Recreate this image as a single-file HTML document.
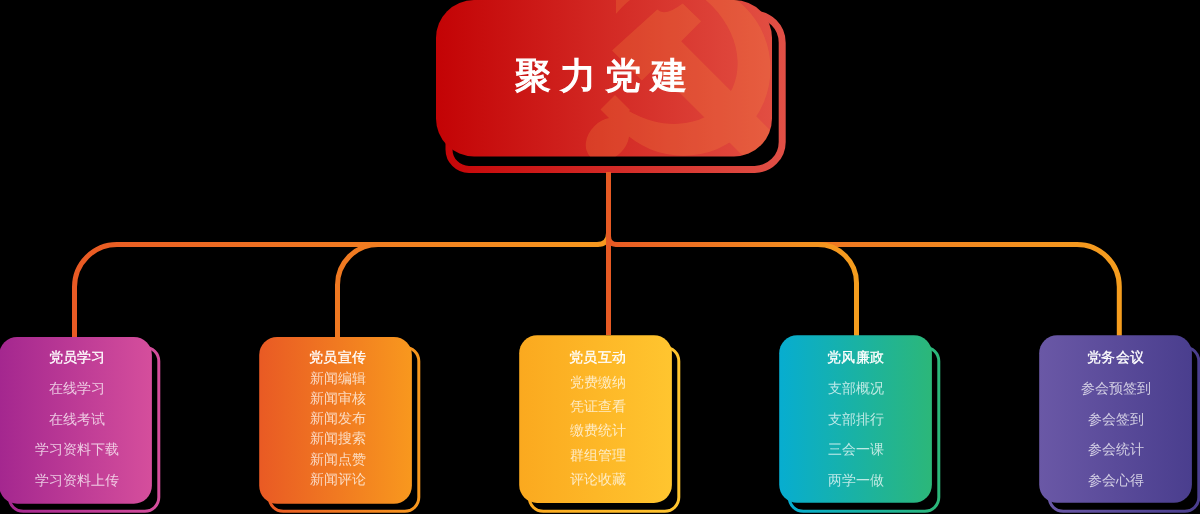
<!DOCTYPE html>
<html><head><meta charset="utf-8">
<style>
html,body{margin:0;padding:0;background:#000;width:1200px;height:514px;overflow:hidden}
svg{position:absolute;left:0;top:0;display:block;will-change:transform}
text{font-family:"Liberation Sans",sans-serif}
.t{font-size:14px;font-weight:400;fill:#fff;stroke:#fff;stroke-width:0.3px;letter-spacing:0.3px}
.i{font-size:14px;font-weight:400;fill:#fff;fill-opacity:.72}
.title{font-size:36px;font-weight:400;fill:#fff;stroke:#fff;stroke-width:1.3px;letter-spacing:9.4px}
</style></head>
<body>
<svg width="1200" height="514" viewBox="0 0 1200 514">
<defs>
  <linearGradient id="gMainFill" x1="436" y1="0" x2="772" y2="0" gradientUnits="userSpaceOnUse">
    <stop offset="0" stop-color="#c30305"/><stop offset="1" stop-color="#e24e42"/>
  </linearGradient>
  <linearGradient id="gMainLine" x1="446" y1="0" x2="786" y2="0" gradientUnits="userSpaceOnUse">
    <stop offset="0" stop-color="#c60608"/><stop offset="1" stop-color="#e15046"/>
  </linearGradient>
  <linearGradient id="gL" x1="75" y1="0" x2="608" y2="0" gradientUnits="userSpaceOnUse">
    <stop offset="0" stop-color="#e95a24"/><stop offset="1" stop-color="#f7981e"/>
  </linearGradient>
  <linearGradient id="gR5" x1="608" y1="0" x2="1119" y2="0" gradientUnits="userSpaceOnUse">
    <stop offset="0" stop-color="#e95a24"/><stop offset="1" stop-color="#f59d1e"/>
  </linearGradient>
  <linearGradient id="gR4" x1="608" y1="0" x2="856" y2="0" gradientUnits="userSpaceOnUse">
    <stop offset="0" stop-color="#e95a24"/><stop offset="1" stop-color="#f59d1e"/>
  </linearGradient>
  <linearGradient id="c1" x1="0" y1="0" x2="1" y2="0"><stop offset="0" stop-color="#a4278f"/><stop offset="1" stop-color="#d54e9c"/></linearGradient>
  <linearGradient id="c2" x1="0" y1="0" x2="1" y2="0"><stop offset="0" stop-color="#e95a24"/><stop offset="1" stop-color="#f8981e"/></linearGradient>
  <linearGradient id="c3" x1="0" y1="0" x2="1" y2="0"><stop offset="0" stop-color="#fba91f"/><stop offset="1" stop-color="#ffc52f"/></linearGradient>
  <linearGradient id="c4" x1="0" y1="0" x2="1" y2="0"><stop offset="0" stop-color="#07add0"/><stop offset="1" stop-color="#2cb779"/></linearGradient>
  <linearGradient id="c5" x1="0" y1="0" x2="1" y2="0"><stop offset="0" stop-color="#6a58a6"/><stop offset="1" stop-color="#4a3e8e"/></linearGradient>
  <clipPath id="cutTop"><path d="M390 321 L616 95 L616 -10 L900 -10 L900 321 Z"/></clipPath>
  <clipPath id="mainClip"><rect x="436" y="0" width="336" height="156.5" rx="38"/></clipPath>
</defs>

<!-- main box -->
<path d="M477 14.2 H753.7 A28.5 28.5 0 0 1 782.2 42.7 V141.9 A27.5 27.5 0 0 1 754.7 169.4 H469 A20 20 0 0 1 449 149.4 V42.2 A28 28 0 0 1 477 14.2 Z" fill="none" stroke="url(#gMainLine)" stroke-width="7"/>
<rect x="436" y="0" width="336" height="156.5" rx="38" fill="url(#gMainFill)"/>
<g clip-path="url(#mainClip)">
<g opacity="0.23" fill="#f7943e">
  <path fill-rule="evenodd" clip-path="url(#cutTop)" d="M770.5 68.7 A87 87 0 1 1 596.5 68.7 A87 87 0 1 1 770.5 68.7 Z M725.7 99.3 A81.7 66.4 36.7 1 0 594.7 1.7 A81.7 66.4 36.7 1 0 725.7 99.3 Z"/>
  <path d="M615 95 L630 110 L615.5 124.5 L600.5 109.5 Z"/>
  <ellipse cx="607.5" cy="139.4" rx="24.4" ry="18.7" transform="rotate(-45 607.5 139.4)"/>
  <path d="M612 50.6 L657.3 9.6 Q665 16.9 682.7 3.4 L701.1 21.3 L681.2 41.2 L795 155 L768.5 181.5 L654.7 67.7 L641.9 80.5 Z"/>
</g></g>
<text class="title" x="605.5" y="88" text-anchor="middle">聚力党建</text>

<!-- connectors -->
<g fill="none" stroke-width="5" stroke-linecap="round">
  <path d="M608.5 233 Q608.5 244.5 597 244.5 H117 A42.5 42.5 0 0 0 74.5 287 V337" stroke="url(#gL)"/>
  <path d="M597 244.5 H378 A40.5 40.5 0 0 0 337.5 285 V337" stroke="url(#gL)"/>
  <path d="M608.5 236 Q608.5 244.5 617 244.5 H1077 A42.3 42.3 0 0 1 1119.3 286.8 V335" stroke="url(#gR5)"/>
  <path d="M617 244.5 H818 A38.5 38.5 0 0 1 856.5 283 V335" stroke="url(#gR4)"/>
  <path d="M608.5 172 V335" stroke="#e65a24" stroke-linecap="butt"/>
</g>

<!-- cards -->
<g id="cards">
  <rect x="9.2" y="347.2" width="149.6" height="164.1" rx="14" fill="none" stroke="url(#c1)" stroke-width="3"/>
  <rect x="-0.8" y="336.9" width="152.7" height="166.8" rx="18" fill="url(#c1)"/>
  <rect x="269.2" y="347.2" width="149.6" height="164.1" rx="14" fill="none" stroke="url(#c2)" stroke-width="3"/>
  <rect x="259.2" y="336.9" width="152.7" height="166.9" rx="18" fill="url(#c2)"/>
  <rect x="529.2" y="347.2" width="149.6" height="164.1" rx="14" fill="none" stroke="url(#c3)" stroke-width="3"/>
  <rect x="519.2" y="335.2" width="152.7" height="167.7" rx="18" fill="url(#c3)"/>
  <rect x="789.2" y="347.2" width="149.6" height="164.1" rx="14" fill="none" stroke="url(#c4)" stroke-width="3"/>
  <rect x="779.2" y="335.2" width="152.7" height="167.6" rx="18" fill="url(#c4)"/>
  <rect x="1049.2" y="347.2" width="149.6" height="164.1" rx="14" fill="none" stroke="url(#c5)" stroke-width="3"/>
  <rect x="1039.2" y="335.2" width="152.7" height="167.6" rx="18" fill="url(#c5)"/>
</g>

<g text-anchor="middle">
  <text class="t" x="77.2" y="362.2">党员学习</text>
  <text class="i" x="77.2" y="393">在线学习</text>
  <text class="i" x="77.2" y="423.5">在线考试</text>
  <text class="i" x="77.2" y="454">学习资料下载</text>
  <text class="i" x="77.2" y="484.5">学习资料上传</text>

  <text class="t" x="337.8" y="362.2">党员宣传</text>
  <text class="i" x="337.8" y="382.5">新闻编辑</text>
  <text class="i" x="337.8" y="402.8">新闻审核</text>
  <text class="i" x="337.8" y="423">新闻发布</text>
  <text class="i" x="337.8" y="443.3">新闻搜索</text>
  <text class="i" x="337.8" y="463.6">新闻点赞</text>
  <text class="i" x="337.8" y="483.9">新闻评论</text>

  <text class="t" x="597.8" y="362.2">党员互动</text>
  <text class="i" x="597.8" y="386.6">党费缴纳</text>
  <text class="i" x="597.8" y="411">凭证查看</text>
  <text class="i" x="597.8" y="435.4">缴费统计</text>
  <text class="i" x="597.8" y="459.8">群组管理</text>
  <text class="i" x="597.8" y="484.2">评论收藏</text>

  <text class="t" x="855.8" y="362.2">党风廉政</text>
  <text class="i" x="855.8" y="393">支部概况</text>
  <text class="i" x="855.8" y="423.5">支部排行</text>
  <text class="i" x="855.8" y="454">三会一课</text>
  <text class="i" x="855.8" y="484.5">两学一做</text>

  <text class="t" x="1115.8" y="362.2">党务会议</text>
  <text class="i" x="1115.8" y="393">参会预签到</text>
  <text class="i" x="1115.8" y="423.5">参会签到</text>
  <text class="i" x="1115.8" y="454">参会统计</text>
  <text class="i" x="1115.8" y="484.5">参会心得</text>
</g>
</svg>
</body></html>
